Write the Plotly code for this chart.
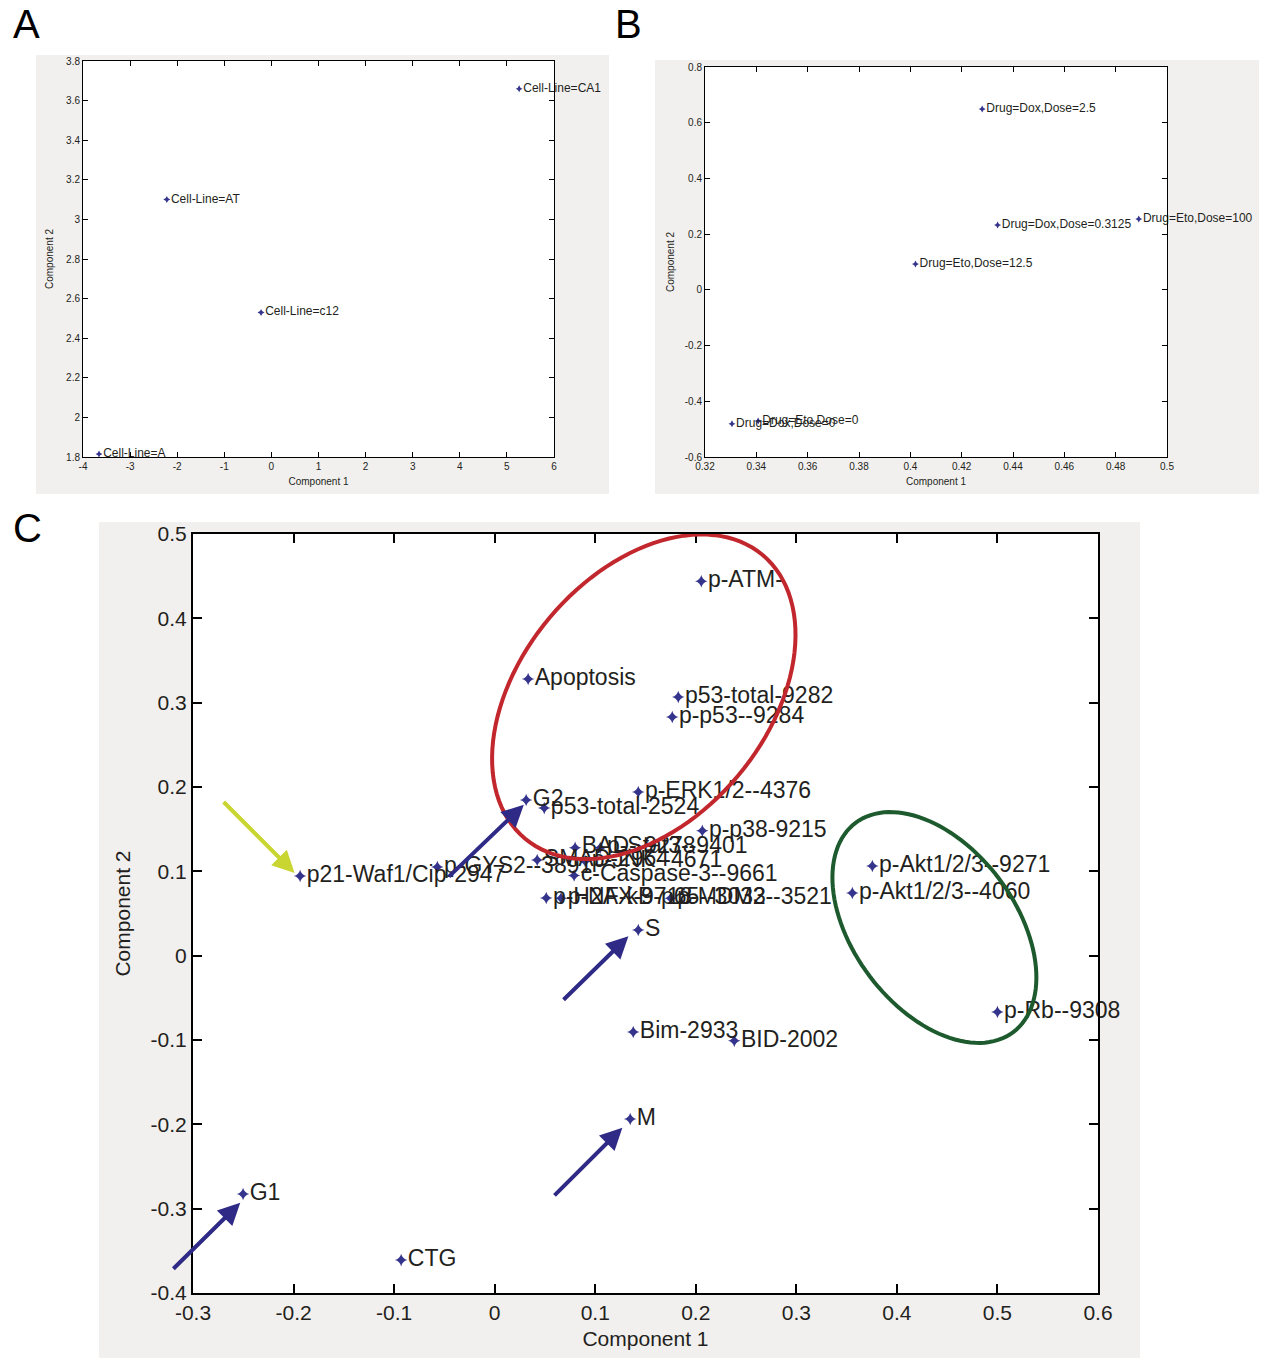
import numpy as np
import plotly.graph_objects as go

# ---------------- DATA ----------------
# Panel A
a_labels = ["Cell-Line=CA1", "Cell-Line=AT", "Cell-Line=c12", "Cell-Line=A"]
a_x = [5.26, -2.22, -0.22, -3.66]
a_y = [3.66, 3.10, 2.53, 1.815]
a_xticks = [-4, -3, -2, -1, 0, 1, 2, 3, 4, 5, 6]
a_yticks = [1.8, 2.0, 2.2, 2.4, 2.6, 2.8, 3.0, 3.2, 3.4, 3.6, 3.8]
a_yticktext = ["1.8", "2", "2.2", "2.4", "2.6", "2.8", "3", "3.2", "3.4", "3.6", "3.8"]

# Panel B
b_labels = ["Drug=Dox,Dose=2.5", "Drug=Dox,Dose=0.3125", "Drug=Eto,Dose=100",
            "Drug=Eto,Dose=12.5", "Drug=Dox,Dose=0", "Drug=Eto,Dose=0"]
b_x = [0.428, 0.434, 0.489, 0.402, 0.3305, 0.3407]
b_y = [0.649, 0.233, 0.254, 0.093, -0.481, -0.471]
b_xticks = [0.32, 0.34, 0.36, 0.38, 0.40, 0.42, 0.44, 0.46, 0.48, 0.50]
b_xticktext = ["0.32", "0.34", "0.36", "0.38", "0.4", "0.42", "0.44", "0.46", "0.48", "0.5"]
b_yticks = [-0.6, -0.4, -0.2, 0.0, 0.2, 0.4, 0.6, 0.8]
b_yticktext = ["-0.6", "-0.4", "-0.2", "0", "0.2", "0.4", "0.6", "0.8"]

# Panel C
c_labels = ["p-ATM-", "Apoptosis", "p53-total-9282", "p-p53--9284", "p-ERK1/2--4376",
            "G2", "p53-total-2524", "p-p38-9215", "BAD--9278", "p-Stat3--9401",
            "SMAD-2964", "p-JNK--4671", "c-Caspase-3--9661", "p-GYS2--3891",
            "p21-Waf1/Cip-2947", "p-H2AX-9718", "p-NF-kB-p65--3033", "p-MDM2--3521",
            "p-Akt1/2/3--9271", "p-Akt1/2/3--4060", "p-Rb--9308", "S", "Bim-2933",
            "BID-2002", "M", "G1", "CTG"]
c_x = [0.2055, 0.0333, 0.1826, 0.1766, 0.1428,
       0.0313, 0.0493, 0.2065, 0.080, 0.105,
       0.0423, 0.090, 0.079, -0.057,
       -0.1935, 0.0513, 0.066, 0.175,
       0.3756, 0.3557, 0.500, 0.1428, 0.1378,
       0.2383, 0.1348, -0.2502, -0.093]
c_y = [0.444, 0.328, 0.3067, 0.283, 0.194,
       0.1846, 0.175, 0.148, 0.128, 0.128,
       0.1134, 0.112, 0.095, 0.105,
       0.0945, 0.0684, 0.068, 0.068,
       0.1063, 0.0743, -0.0668, 0.0304, -0.0905,
       -0.101, -0.1937, -0.2826, -0.361]
c_xticks = [-0.3, -0.2, -0.1, 0.0, 0.1, 0.2, 0.3, 0.4, 0.5, 0.6]
c_xticktext = ["-0.3", "-0.2", "-0.1", "0", "0.1", "0.2", "0.3", "0.4", "0.5", "0.6"]
c_yticks = [-0.4, -0.3, -0.2, -0.1, 0.0, 0.1, 0.2, 0.3, 0.4, 0.5]
c_yticktext = ["-0.4", "-0.3", "-0.2", "-0.1", "0", "0.1", "0.2", "0.3", "0.4", "0.5"]

# Arrows in panel C (tail -> head), data coordinates
arrow_tail_x = [-0.321, -0.047, 0.067, 0.058, -0.271]
arrow_tail_y = [-0.373, 0.092, -0.054, -0.286, 0.184]
arrow_head_x = [-0.253, 0.029, 0.133, 0.127, -0.199]
arrow_head_y = [-0.293, 0.179, 0.023, -0.204, 0.098]
arrow_colors = ["#2e2a86", "#2e2a86", "#2e2a86", "#2e2a86", "#c9d530"]

# ---------------- LAYOUT HELPERS ----------------
W, H = 1264, 1360
FONT = "Arial, Liberation Sans, sans-serif"
MARK = "#34348c"
TXT = "#231f20"
BG = "#f2f0ee"


def xdom(l, r):
    return [l / W, r / W]


def ydom(t, b):
    return [1 - b / H, 1 - t / H]


# plot areas in pixels (left, top, right, bottom)
A_box = (83, 61, 554, 457)
B_box = (705, 67, 1167, 457)
C_box = (193, 534, 1098, 1293)


def axis(domain, anchor, rng, tickvals, ticktext, tsize, tlen, lw, title, titlesize, standoff):
    return dict(domain=domain, anchor=anchor, range=rng, tickvals=tickvals, ticktext=ticktext,
                showline=True, mirror="allticks", linecolor="black", linewidth=lw,
                ticks="inside", ticklen=tlen, tickwidth=lw, tickcolor="black",
                showgrid=False, zeroline=False, fixedrange=True, automargin=False,
                tickfont=dict(family=FONT, size=tsize, color=TXT),
                title=dict(text=title, font=dict(family=FONT, size=titlesize, color=TXT),
                           standoff=standoff))


fig = go.Figure()

fig.add_trace(go.Scatter(x=a_x, y=a_y, text=a_labels, mode="markers+text",
                         textposition="middle right", cliponaxis=False,
                         marker=dict(symbol="star-diamond", size=5, color=MARK),
                         textfont=dict(family=FONT, size=12, color=TXT),
                         xaxis="x", yaxis="y", showlegend=False))
fig.add_trace(go.Scatter(x=b_x, y=b_y, text=b_labels, mode="markers+text",
                         textposition="middle right", cliponaxis=False,
                         marker=dict(symbol="star-diamond", size=5, color=MARK),
                         textfont=dict(family=FONT, size=12, color=TXT),
                         xaxis="x2", yaxis="y2", showlegend=False))
fig.add_trace(go.Scatter(x=c_x, y=c_y, text=c_labels, mode="markers+text",
                         textposition="middle right", cliponaxis=False,
                         marker=dict(symbol="star-diamond", size=9, color=MARK),
                         textfont=dict(family=FONT, size=23, color=TXT),
                         xaxis="x3", yaxis="y3", showlegend=False))

fig.update_layout(
    width=W, height=H, margin=dict(l=0, r=0, t=0, b=0, autoexpand=False),
    paper_bgcolor="white", plot_bgcolor="rgba(0,0,0,0)",
    xaxis=axis(xdom(A_box[0], A_box[2]), "y", [-4, 6], a_xticks, [str(v) for v in a_xticks],
               10, 5, 1, "Component 1", 10, 6),
    yaxis=axis(ydom(A_box[1], A_box[3]), "x", [1.8, 3.8], a_yticks, a_yticktext,
               10, 5, 1, "Component 2", 10, 10),
    xaxis2=axis(xdom(B_box[0], B_box[2]), "y2", [0.32, 0.5], b_xticks, b_xticktext,
                10, 5, 1, "Component 1", 10, 6),
    yaxis2=axis(ydom(B_box[1], B_box[3]), "x2", [-0.6, 0.8], b_yticks, b_yticktext,
                10, 5, 1, "Component 2", 10, 8),
    xaxis3=axis(xdom(C_box[0], C_box[2]), "y3", [-0.3, 0.6], c_xticks, c_xticktext,
                21, 9, 2, "Component 1", 21, 8),
    yaxis3=axis(ydom(C_box[1], C_box[3]), "x3", [-0.4, 0.5], c_yticks, c_yticktext,
                21, 9, 2, "Component 2", 21, 14),
)

shapes = []
# gray panel backgrounds + white plot areas
for (l, t, r, b) in [(36, 55, 609, 494), (655, 60, 1259, 494), (99, 522, 1140, 1358)]:
    shapes.append(dict(type="rect", xref="paper", yref="paper", x0=l / W, x1=r / W,
                       y0=1 - b / H, y1=1 - t / H, fillcolor=BG, line=dict(width=0), layer="below"))
for (l, t, r, b) in [A_box, B_box, C_box]:
    shapes.append(dict(type="rect", xref="paper", yref="paper", x0=l / W, x1=r / W,
                       y0=1 - b / H, y1=1 - t / H, fillcolor="white", line=dict(width=0), layer="below"))

# ellipses in panel C (center in data units, semi-axes in pixels, rotation in degrees)
sx = (C_box[2] - C_box[0]) / 0.9
sy = (C_box[3] - C_box[1]) / 0.9


def ellipse_path(cx, cy, a, b, phi):
    t = np.linspace(0, 2 * np.pi, 121)
    ph = np.radians(phi)
    u, v = a * np.cos(t), b * np.sin(t)
    dx = u * np.cos(ph) - v * np.sin(ph)
    dy = u * np.sin(ph) + v * np.cos(ph)
    xs, ys = cx + dx / sx, cy + dy / sy
    return "M " + " L ".join(f"{x:.5f},{y:.5f}" for x, y in zip(xs, ys)) + " Z"


shapes.append(dict(type="path", xref="x3", yref="y3", path=ellipse_path(0.1483, 0.3070, 185, 123, 50),
                   line=dict(color="#c1272d", width=4), layer="above"))
shapes.append(dict(type="path", xref="x3", yref="y3", path=ellipse_path(0.4373, 0.0334, 131, 81, -53),
                   line=dict(color="#1d5a2e", width=4), layer="above"))
fig.update_layout(shapes=shapes)

ann = []
for tx, ty, hx, hy, col in zip(arrow_tail_x, arrow_tail_y, arrow_head_x, arrow_head_y, arrow_colors):
    ann.append(dict(x=hx, y=hy, ax=tx, ay=ty, xref="x3", yref="y3", axref="x3", ayref="y3",
                    text="", showarrow=True, arrowhead=2, arrowsize=1.1, arrowwidth=4,
                    arrowcolor=col))
for lab, px, py in [("A", 26, 24), ("B", 628, 24), ("C", 27, 528)]:
    ann.append(dict(text=lab, x=px / W, y=1 - py / H, xref="paper", yref="paper",
                    showarrow=False, xanchor="center", yanchor="middle",
                    font=dict(family=FONT, size=40, color="black")))
fig.update_layout(annotations=ann)

fig.write_html("out.html", config={"displayModeBar": False},
               post_script="document.body.style.margin='0px';document.body.style.overflow='hidden';")
